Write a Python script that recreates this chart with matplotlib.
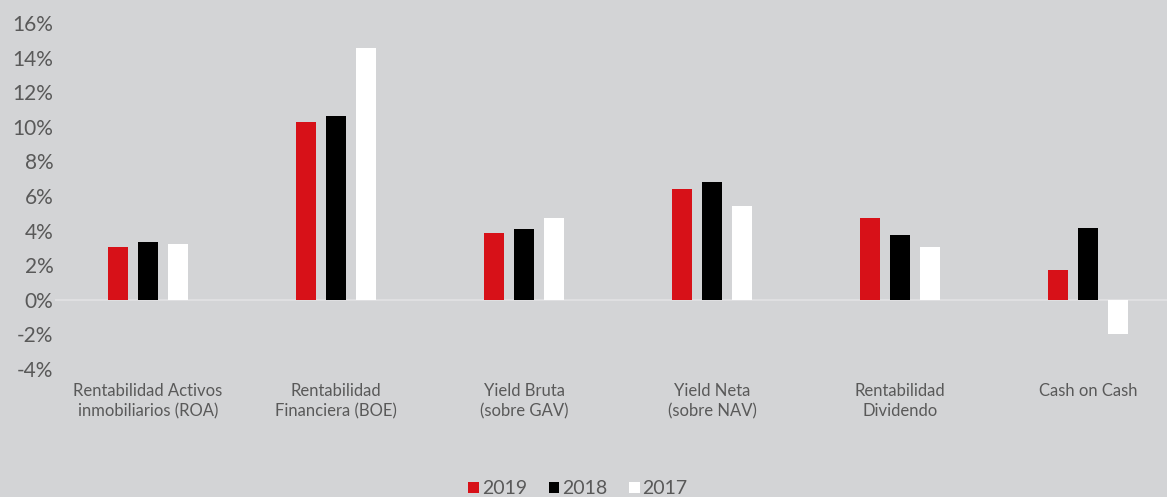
import matplotlib.pyplot as plt
import numpy as np

categorias = ['Rentabilidad Activos\ninmobiliarios (ROA)', 'Rentabilidad\nFinanciera (BOE)',
              'Yield Bruta\n(sobre GAV)', 'Yield Neta\n(sobre NAV)',
              'Rentabilidad\nDividendo', 'Cash on Cash']
v2019 = [3.05, 10.3, 3.85, 6.4, 4.75, 1.7]
v2018 = [3.35, 10.6, 4.1, 6.8, 3.75, 4.15]
v2017 = [3.25, 14.55, 4.75, 5.45, 3.05, -2.0]
anios = ['2019', '2018', '2017']
colores = ['#d71118', '#000000', '#ffffff']

plt.rcParams['font.family'] = ['Lato', 'DejaVu Sans']
fondo = '#d3d4d6'
gris = '#595959'

fig = plt.figure(figsize=(11.67, 4.97), dpi=100, facecolor=fondo)
ax = fig.add_axes([55 / 1167, 1 - 369 / 497, 1 - 55 / 1167, (369 - 23) / 497])
ax.set_facecolor(fondo)

x = np.arange(len(categorias))
ancho = 0.106
desp = 0.16
for i, (vals, lab, col) in enumerate(zip([v2019, v2018, v2017], anios, colores)):
    ax.bar(x + (i - 1) * desp, vals, ancho, color=col, label=lab, zorder=3)

ax.axhline(0, color='#e2e2e4', lw=1.2, zorder=2)
ax.set_xlim(-0.5 + 1 / 188, -0.5 + 1 / 188 + 1112 / 188)
ax.set_ylim(-4, 16)
ax.set_yticks(range(-4, 17, 2))
ax.set_yticklabels([f'{t}%' for t in range(-4, 17, 2)], color=gris, fontsize=15)
ax.set_xticks(x)
ax.set_xticklabels(categorias, color=gris, fontsize=12, linespacing=1.35)
ax.tick_params(axis='both', length=0)
ax.tick_params(axis='y', pad=1)
ax.tick_params(axis='x', pad=10)
for s in ax.spines.values():
    s.set_visible(False)

leg = fig.legend(loc='center', bbox_to_anchor=(578 / 1167, 1 - 489 / 497), ncol=3,
                 frameon=False, fontsize=14, handlelength=0.55, handleheight=0.55,
                 handletextpad=0.15, columnspacing=1.1, labelcolor=gris)

fig.savefig('out.png', dpi=100, facecolor=fondo)
